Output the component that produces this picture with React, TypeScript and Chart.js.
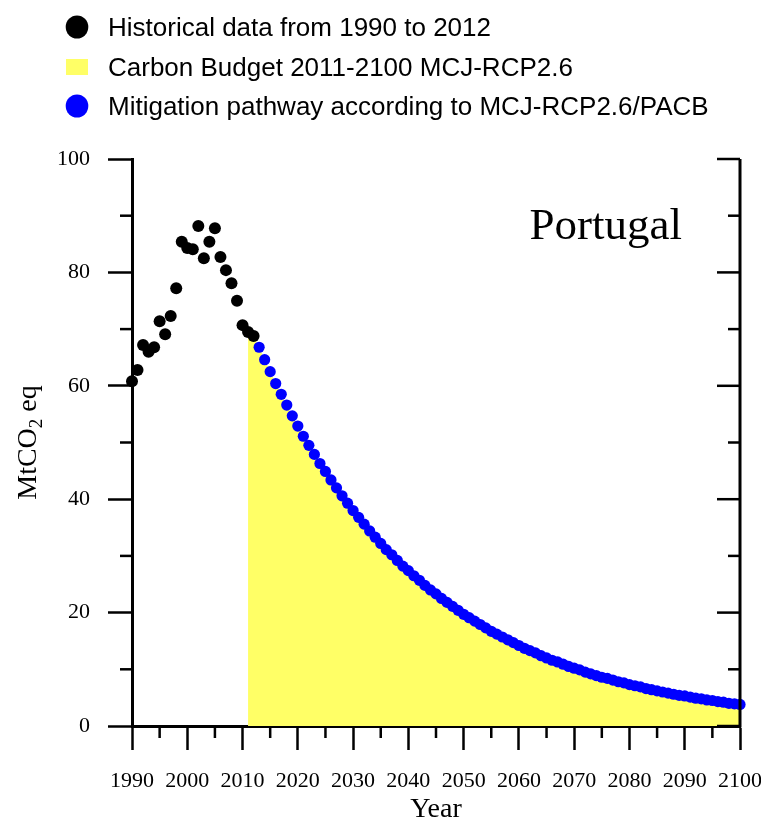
import { useEffect, useRef } from "react";
import { Chart, registerables } from "chart.js";

Chart.register(...registerables);

// ---------- data ----------
const histYears = [
  1990, 1991, 1992, 1993, 1994, 1995, 1996, 1997, 1998, 1999, 2000, 2001,
  2002, 2003, 2004, 2005, 2006, 2007, 2008, 2009, 2010, 2011, 2012,
];
const histValues = [
  60.8, 62.8, 67.2, 66.0, 66.8, 71.4, 69.1, 72.3, 77.2, 85.4, 84.3, 84.1,
  88.2, 82.5, 85.4, 87.8, 82.7, 80.4, 78.1, 75.0, 70.7, 69.5, 68.8,
];

const pathStartYear = 2013;
const pathValues = [
  66.8, 64.6, 62.5, 60.4, 58.5, 56.6, 54.7, 52.9, 51.1, 49.5, 47.9, 46.3,
  44.9, 43.4, 42.0, 40.6, 39.3, 38.0, 36.8, 35.6, 34.4, 33.3, 32.2, 31.1,
  30.2, 29.2, 28.2, 27.4, 26.5, 25.7, 24.8, 24.0, 23.3, 22.5, 21.8, 21.1,
  20.4, 19.7, 19.1, 18.5, 17.9, 17.3, 16.7, 16.2, 15.7, 15.2, 14.7, 14.2,
  13.7, 13.3, 12.9, 12.4, 12.0, 11.6, 11.3, 10.9, 10.5, 10.2, 9.9, 9.5,
  9.2, 8.9, 8.6, 8.4, 8.1, 7.8, 7.6, 7.3, 7.1, 6.9, 6.6, 6.4,
  6.2, 6.0, 5.8, 5.6, 5.4, 5.3, 5.1, 4.9, 4.8, 4.6, 4.5, 4.3,
  4.2, 4.0, 3.9, 3.8,
];

const budgetStartYear = 2011;

const xTicks = [1990, 2000, 2010, 2020, 2030, 2040, 2050, 2060, 2070, 2080, 2090, 2100];
const xMinorTicks = [1995, 2005, 2015, 2025, 2035, 2045, 2055, 2065, 2075, 2085, 2095];
const yTicks = [0, 20, 40, 60, 80, 100];
const yMinorTicks = [10, 30, 50, 70, 90];

const legendLabels = [
  "Historical data from 1990 to 2012",
  "Carbon Budget 2011-2100 MCJ-RCP2.6",
  "Mitigation pathway according to MCJ-RCP2.6/PACB",
];
const countryName = "Portugal";
const xTitle = "Year";

const BLACK = "#000000";
const YELLOW = "#ffff66";
const BLUE = "#0000ff";
const SERIF = "'Liberation Serif', 'Times New Roman', serif";
const SANS = "'Liberation Sans', Arial, sans-serif";

// ---------- plugin ----------
const decorPlugin = {
  id: "decor",
  afterDraw(chart: any) {
    const { ctx, chartArea, scales } = chart;
    const x = scales.x;
    const y = scales.y;
    const { left, right, top, bottom } = chartArea;
    ctx.save();
    ctx.strokeStyle = BLACK;
    ctx.lineWidth = 2.5;
    ctx.lineCap = "butt";
    const line = (x1: number, y1: number, x2: number, y2: number) => {
      ctx.beginPath();
      ctx.moveTo(x1, y1);
      ctx.lineTo(x2, y2);
      ctx.stroke();
    };
    // minor outward ticks
    xMinorTicks.forEach((v) => {
      const px = x.getPixelForValue(v);
      line(px, bottom, px, bottom + 12);
    });
    yMinorTicks.forEach((v) => {
      const py = y.getPixelForValue(v);
      line(left - 12, py, left, py);
    });
    // right axis with inward ticks
    ctx.lineWidth = 3;
    line(right, top, right, bottom + 1.5);
    ctx.lineWidth = 2.5;
    yTicks.forEach((v) => {
      const py = y.getPixelForValue(v);
      line(right - 23, py, right, py);
    });
    yMinorTicks.forEach((v) => {
      const py = y.getPixelForValue(v);
      line(right - 12, py, right, py);
    });

    // country name
    ctx.fillStyle = BLACK;
    ctx.font = `45px ${SERIF}`;
    ctx.textAlign = "right";
    ctx.textBaseline = "alphabetic";
    ctx.fillText(countryName, 682, 239);

    // x title
    ctx.font = `28px ${SERIF}`;
    ctx.textAlign = "center";
    ctx.fillText(xTitle, (left + right) / 2, 817);

    // y title with subscript
    ctx.save();
    const cy = (top + bottom) / 2;
    ctx.translate(36, cy);
    ctx.rotate(-Math.PI / 2);
    ctx.textAlign = "left";
    const big = `28px ${SERIF}`;
    const small = `19px ${SERIF}`;
    ctx.font = big;
    const w1 = ctx.measureText("MtCO").width;
    const w3 = ctx.measureText(" eq").width;
    ctx.font = small;
    const w2 = ctx.measureText("2").width;
    const total = w1 + w2 + w3;
    let sx = -total / 2;
    ctx.font = big;
    ctx.fillText("MtCO", sx, 0);
    sx += w1;
    ctx.font = small;
    ctx.fillText("2", sx, 6);
    sx += w2;
    ctx.font = big;
    ctx.fillText(" eq", sx, 0);
    ctx.restore();

    // legend
    const ds = chart.data.datasets;
    const rows = [
      { label: ds[0].label, kind: "circle", color: ds[0].backgroundColor, base: 36 },
      { label: ds[1].label, kind: "rect", color: ds[1].backgroundColor, base: 76 },
      { label: ds[2].label, kind: "circle", color: ds[2].backgroundColor, base: 115 },
    ];
    ctx.font = `26px ${SANS}`;
    ctx.textAlign = "left";
    rows.forEach((r) => {
      const cyRow = r.base - 9;
      ctx.fillStyle = r.color;
      if (r.kind === "circle") {
        ctx.beginPath();
        ctx.ellipse(77, cyRow, 11.3, 11.6, 0, 0, Math.PI * 2);
        ctx.fill();
      } else {
        ctx.fillRect(66, cyRow - 8, 22, 16);
      }
      ctx.fillStyle = BLACK;
      ctx.fillText(r.label, 108, r.base);
    });
    ctx.restore();
  },
};

export default function App() {
  const ref = useRef<HTMLCanvasElement | null>(null);

  useEffect(() => {
    if (!ref.current) return;
    const histData = histYears.map((yr, i) => ({ x: yr, y: histValues[i] }));
    const pathData = pathValues.map((v, i) => ({ x: pathStartYear + i, y: v }));
    const budgetData = [
      ...histYears
        .map((yr, i) => ({ x: yr, y: histValues[i] }))
        .filter((p) => p.x >= budgetStartYear),
      ...pathData,
    ];

    const chart = new Chart(ref.current, {
      type: "line",
      data: {
        datasets: [
          {
            label: legendLabels[0],
            data: histData,
            showLine: false,
            pointRadius: 6,
            pointBorderWidth: 0,
            backgroundColor: BLACK,
            borderColor: BLACK,
            pointBackgroundColor: BLACK,
            order: 1,
            clip: false as any,
          },
          {
            label: legendLabels[1],
            data: budgetData,
            showLine: true,
            borderWidth: 0,
            borderColor: "rgba(0,0,0,0)",
            backgroundColor: YELLOW,
            pointRadius: 0,
            fill: "origin",
            tension: 0,
            order: 3,
          },
          {
            label: legendLabels[2],
            data: pathData,
            showLine: false,
            pointRadius: 5.6,
            pointBorderWidth: 0,
            backgroundColor: BLUE,
            borderColor: BLUE,
            pointBackgroundColor: BLUE,
            order: 2,
            clip: false as any,
          },
        ],
      },
      options: {
        animation: false,
        responsive: true,
        maintainAspectRatio: false,
        layout: { padding: { top: 159, right: 21, left: 0, bottom: 0 } },
        plugins: {
          legend: { display: false },
          tooltip: { enabled: false },
          title: { display: false },
        },
        scales: {
          x: {
            type: "linear",
            min: 1990,
            max: 2100,
            afterBuildTicks: (scale: any) => {
              scale.ticks = xTicks.map((v) => ({ value: v }));
            },
            afterFit: (scale: any) => {
              scale.height = 97;
              scale.paddingLeft = 0;
              scale.paddingRight = 0;
            },
            grid: {
              display: true,
              drawOnChartArea: false,
              drawTicks: true,
              tickLength: 24,
              tickWidth: 2.5,
              tickColor: BLACK,
            },
            border: { display: true, color: BLACK, width: 3 },
            ticks: {
              color: BLACK,
              padding: 18,
              maxRotation: 0,
              autoSkip: false,
              font: { family: SERIF, size: 22 },
              callback: (v: any) => String(v),
            },
          },
          y: {
            type: "linear",
            min: 0,
            max: 100,
            afterBuildTicks: (scale: any) => {
              scale.ticks = yTicks.map((v) => ({ value: v }));
            },
            afterFit: (scale: any) => {
              scale.width = 132;
              scale.paddingTop = 0;
              scale.paddingBottom = 0;
            },
            grid: {
              display: true,
              drawOnChartArea: false,
              drawTicks: true,
              tickLength: 24,
              tickWidth: 2.5,
              tickColor: BLACK,
            },
            border: { display: true, color: BLACK, width: 3 },
            ticks: {
              color: BLACK,
              padding: 18,
              autoSkip: false,
              font: { family: SERIF, size: 22 },
              callback: (v: any) => String(v),
            },
          },
        },
      },
      plugins: [decorPlugin],
    });
    return () => chart.destroy();
  }, []);

  return (
    <div
      style={{
        position: "absolute",
        left: 0,
        top: 0,
        width: 761,
        height: 823,
        background: "#ffffff",
      }}
    >
      <canvas ref={ref} />
    </div>
  );
}
